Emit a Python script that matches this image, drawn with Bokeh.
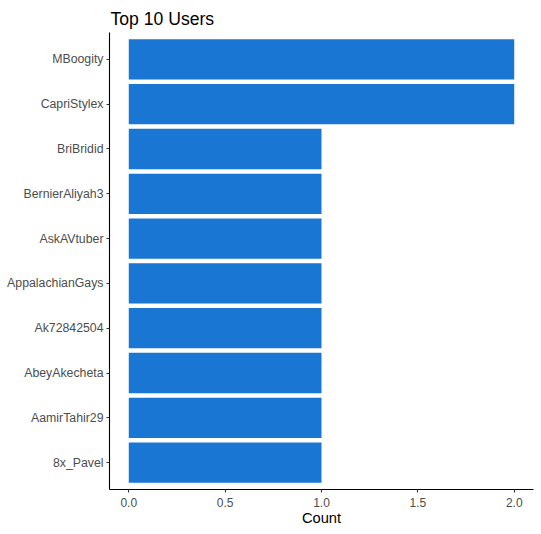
from bokeh.plotting import figure
from bokeh.models import FactorRange, Range1d, FixedTicker, NumeralTickFormatter, ColumnDataSource
from bokeh.embed import file_html
from bokeh.resources import INLINE

users = ["MBoogity", "CapriStylex", "BriBridid", "BernierAliyah3", "AskAVtuber",
         "AppalachianGays", "Ak72842504", "AbeyAkecheta", "AamirTahir29", "8x_Pavel"]
counts = [2, 2, 1, 1, 1, 1, 1, 1, 1, 1]
x_ticks = [0.0, 0.5, 1.0, 1.5, 2.0]
title_text = "Top 10 Users"

FONT = "Liberation Sans"

src = ColumnDataSource(dict(user=users, count=counts))

p = figure(width=541, height=534, output_backend="svg", toolbar_location=None,
           y_range=FactorRange(factors=list(reversed(users)), range_padding=0.1,
                               range_padding_units="absolute"),
           x_range=Range1d(-0.1, 2.1),
           min_border_left=109, min_border_right=8, min_border_top=32,
           min_border_bottom=45, title=title_text)

p.hbar(y="user", right="count", left=0, height=0.9, source=src,
       fill_color="#1976D2", line_color=None)

p.outline_line_color = None
p.xgrid.visible = False
p.ygrid.visible = False
p.background_fill_color = "white"
p.border_fill_color = "white"

p.title.text_font = FONT
p.title.text_font_size = "17.6px"
p.title.text_font_style = "normal"
p.title.text_color = "black"
p.title.align = "left"
p.title.vertical_align = "top"
p.title.offset = 1
p.title.standoff = 4

for ax in (p.xaxis[0], p.yaxis[0]):
    ax.axis_line_color = "black"
    ax.axis_line_width = 1.1
    ax.major_tick_line_color = "#333333"
    ax.major_tick_line_width = 1.1
    ax.major_tick_out = 3
    ax.major_tick_in = 0
    ax.minor_tick_line_color = None
    ax.major_label_text_font = FONT
    ax.major_label_text_font_size = "12px"
    ax.major_label_text_color = "#4D4D4D"

p.yaxis.major_label_text_font_size = "12.3px"
p.yaxis.major_label_standoff = 3
p.xaxis.major_label_standoff = 5

p.xaxis.ticker = FixedTicker(ticks=x_ticks)
p.xaxis.formatter = NumeralTickFormatter(format="0.0")
p.xaxis.axis_label = "Count"
p.xaxis.axis_label_text_font = FONT
p.xaxis.axis_label_text_font_size = "14.7px"
p.xaxis.axis_label_text_font_style = "normal"
p.xaxis.axis_label_text_color = "black"
p.xaxis.axis_label_standoff = 0

open("out.html", "w").write(file_html(p, INLINE))
